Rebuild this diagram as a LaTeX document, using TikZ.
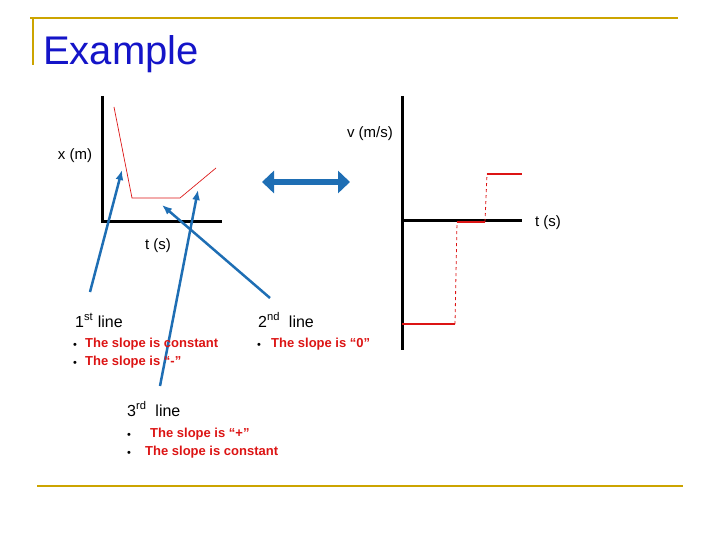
\documentclass[tikz,border=0pt]{standalone}
\usepackage{fontspec}
\setmainfont{Liberation Sans}
\usetikzlibrary{arrows.meta}
\definecolor{gold}{RGB}{204,164,0}
\definecolor{tblue}{RGB}{20,20,200}
\definecolor{arblue}{RGB}{30,110,180}
\definecolor{rd}{RGB}{220,20,20}
\begin{document}
\begin{tikzpicture}[x=1pt,y=-1pt,
  frame/.style={gold,line width=2.5pt},
  axis/.style={black,line width=3pt},
  lbl/.style={font=\fontsize{15}{18}\selectfont,inner sep=0pt},
  head/.style={font=\fontsize{16}{19}\selectfont,inner sep=0pt,anchor=base west},
  redtxt/.style={rd,font=\bfseries\fontsize{13}{15}\selectfont,inner sep=0pt,anchor=base west},
  bul/.style={font=\fontsize{11}{13}\selectfont,inner sep=0pt,anchor=base west},
  pointer/.style={arblue,line width=2.5pt,-{Latex[length=10pt,width=8pt]}},
  stepline/.style={rd,line width=2.5pt},
  dstep/.style={rd,line width=0.8pt,dashed}]
\useasboundingbox (0,0) rectangle (720,540);
\draw[frame] (30,18) -- (678,18);
\draw[frame] (33,18) -- (33,65);
\draw[frame] (37,486) -- (683,486);
\node[tblue,font=\fontsize{40}{48}\selectfont,inner sep=0pt,anchor=base west] (title) at (43,65) {Example};
% left graph
\coordinate (o1) at (102,222);
\draw[axis] (102,96) -- (o1) -- (222,222);
\node[lbl] (xm) at (75,156) {x (m)};
\node[lbl] (ts1) at (158,246) {t (s)};
\coordinate (p1) at (114,107); \coordinate (p2) at (132,198);
\coordinate (p3) at (180,198); \coordinate (p4) at (216,168);
\draw[rd,line width=0.7pt] (p1) -- (p2) -- (p3) -- (p4);
% arrows
\coordinate (a1) at (90,292); \coordinate (a1e) at (122,170);
\coordinate (a2) at (160,386); \coordinate (a2e) at (198,190);
\coordinate (a3) at (270,298); \coordinate (a3e) at (162,205);
\draw[pointer] (a1) -- (a1e);
\draw[pointer] (a2) -- (a2e);
\draw[pointer] (a3) -- (a3e);
\coordinate (d1) at (262,182); \coordinate (d2) at (350,182);
\draw[arblue,line width=6pt,{Triangle[length=12pt,width=22pt]}-{Triangle[length=12pt,width=22pt]}] (d1) -- (d2);
% right graph
\coordinate (o2) at (402,221);
\draw[axis] (402,96) -- (402,350);
\draw[axis] (o2) -- (522,221);
\node[lbl] (vm) at (370,134) {v (m/s)};
\node[lbl] (ts2) at (548,223) {t (s)};
\draw[stepline] (402,324) -- (455,324);
\draw[dstep] (455,324) -- (457,222);
\draw[stepline] (457,222) -- (485,222);
\draw[dstep] (485,222) -- (487,174);
\draw[stepline] (487,174) -- (522,174);
% texts
\node[head] (l1) at (75,327) {1\textsuperscript{st} line};
\node[bul] (b11) at (73,348) {•}; \node[redtxt] (t11) at (85,347) {The slope is constant};
\node[bul] (b12) at (73,366) {•}; \node[redtxt] (t12) at (85,365) {The slope is “-”};
\node[head] (l2) at (258,327) {2\textsuperscript{nd}\ \ line};
\node[bul] (b21) at (257,348) {•}; \node[redtxt] (t21) at (271,347) {The slope is “0”};
\node[head] (l3) at (127,416) {3\textsuperscript{rd}\ \ line};
\node[bul] (b31) at (127,438) {•}; \node[redtxt] (t31) at (150,437) {The slope is “+”};
\node[bul] (b32) at (127,456) {•}; \node[redtxt] (t32) at (145,455) {The slope is constant};
\end{tikzpicture}
\end{document}
